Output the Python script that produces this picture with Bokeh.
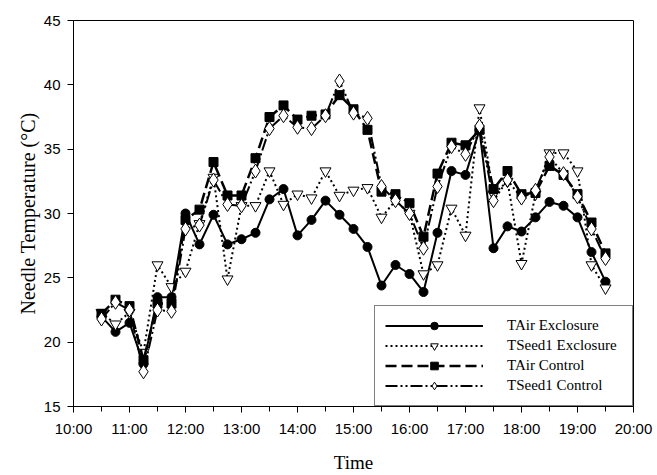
from bokeh.plotting import figure
from bokeh.models import FixedTicker, Legend, LegendItem, Title
from bokeh.embed import file_html
from bokeh.resources import INLINE

times = ["10:30", "10:45", "11:00", "11:15", "11:30", "11:45", "12:00", "12:15", "12:30", "12:45",
         "13:00", "13:15", "13:30", "13:45", "14:00", "14:15", "14:30", "14:45", "15:00", "15:15",
         "15:30", "15:45", "16:00", "16:15", "16:30", "16:45", "17:00", "17:15", "17:30", "17:45",
         "18:00", "18:15", "18:30", "18:45", "19:00", "19:15", "19:30"]

tair_exclosure = [22.0, 20.8, 21.5, 18.3, 23.5, 23.5, 30.0, 27.6, 29.9, 27.6,
                  28.0, 28.5, 31.1, 31.9, 28.3, 29.5, 31.0, 29.9, 28.8, 27.4,
                  24.4, 26.0, 25.3, 23.9, 28.5, 33.3, 33.0, 36.5, 27.3, 29.0,
                  28.6, 29.7, 30.9, 30.6, 29.7, 27.0, 24.7]
tseed1_exclosure = [22.3, 21.4, 22.3, 19.2, 26.0, 24.3, 25.5, 29.2, 32.8, 24.9,
                    30.6, 30.6, 33.3, 30.7, 31.5, 31.2, 33.3, 31.4, 31.8, 32.0,
                    29.7, 31.0, 30.0, 25.3, 26.0, 30.4, 28.3, 38.2, 31.5, 32.5,
                    26.1, 31.5, 34.7, 34.7, 33.3, 26.0, 24.2]
tair_control = [22.2, 23.3, 22.8, 18.6, 23.0, 23.0, 29.5, 30.3, 34.0, 31.4,
                31.4, 34.3, 37.5, 38.4, 37.3, 37.6, 37.7, 39.2, 38.1, 36.5,
                31.7, 31.5, 30.8, 28.2, 33.1, 35.5, 35.3, 36.5, 31.9, 33.3,
                31.5, 31.6, 33.7, 33.0, 31.5, 29.3, 26.9]
tseed1_control = [21.8, 23.1, 22.5, 17.7, 22.5, 22.4, 28.8, 29.1, 32.6, 30.7,
                  30.6, 33.3, 36.6, 37.6, 36.7, 36.6, 37.6, 40.3, 37.8, 37.4,
                  32.1, 31.0, 30.0, 27.3, 32.1, 35.2, 34.6, 36.8, 31.0, 32.6,
                  31.2, 31.8, 34.4, 33.1, 31.3, 28.8, 26.5]

hour_ticks = [10, 11, 12, 13, 14, 15, 16, 17, 18, 19, 20]
hour_labels = ["10:00", "11:00", "12:00", "13:00", "14:00", "15:00", "16:00", "17:00", "18:00", "19:00", "20:00"]
half_hour_ticks = [10.5, 11.5, 12.5, 13.5, 14.5, 15.5, 16.5, 17.5, 18.5, 19.5]
y_ticks = [15, 20, 25, 30, 35, 40, 45]


def to_hours(t):
    h, m = t.split(":")
    return int(h) + int(m) / 60.0


x = [to_hours(t) for t in times]

p = figure(width=657, height=475, x_range=(10, 20), y_range=(15, 45),
           output_backend="svg", toolbar_location=None,
           min_border_left=73, min_border_right=24, min_border_top=20, min_border_bottom=65)

p.background_fill_color = "white"
p.border_fill_color = "white"
p.outline_line_color = "black"
p.outline_line_width = 1
p.xgrid.visible = False
p.ygrid.visible = False

p.xaxis.ticker = FixedTicker(ticks=hour_ticks, minor_ticks=half_hour_ticks)
p.xaxis.major_label_overrides = {t: l for t, l in zip(hour_ticks, hour_labels)}
p.yaxis.ticker = FixedTicker(ticks=y_ticks, minor_ticks=[])

for ax in (p.xaxis, p.yaxis):
    ax.axis_line_color = "black"
    ax.axis_line_width = 1
    ax.major_tick_line_color = "black"
    ax.minor_tick_line_color = "black"
    ax.major_tick_in = 0
    ax.major_tick_out = 6
    ax.minor_tick_in = 0
    ax.minor_tick_out = 5
    ax.major_label_text_font = "Liberation Sans"
    ax.major_label_text_font_size = "15px"
    ax.major_label_text_color = "black"
    ax.axis_label_text_font = "Liberation Serif"
    ax.axis_label_text_font_style = "normal"
    ax.axis_label_text_color = "black"

p.xaxis.axis_label = "Time"
p.xaxis.axis_label_text_font_size = "19px"
p.xaxis.major_label_standoff = 7
p.yaxis.major_label_standoff = 7
p.xaxis.axis_label_standoff = 12

ytitle = Title(text="Needle Temperature (°C)", align="center", offset=15,
               text_font="Liberation Serif", text_font_size="20px",
               text_font_style="normal", text_color="black", standoff=4)
p.add_layout(ytitle, "left")

l1 = p.line(x, tair_exclosure, line_color="black", line_width=2)
m1 = p.scatter(x, tair_exclosure, marker="circle", size=9, fill_color="black", line_color="black")

l2 = p.line(x, tseed1_exclosure, line_color="black", line_width=2, line_dash="2 3")
m2 = p.scatter(x, tseed1_exclosure, marker="inverted_triangle", size=11, fill_color="white", line_color="black", line_width=1)

l3 = p.line(x, tair_control, line_color="black", line_width=2.5, line_dash="11 5")
m3 = p.scatter(x, tair_control, marker="square", size=9, fill_color="black", line_color="black")

l4 = p.line(x, tseed1_control, line_color="black", line_width=2, line_dash="12 3 2 3 2 3")
m4 = p.scatter(x, tseed1_control, marker="diamond", size=14, fill_color="white", line_color="black", line_width=1)

legend = Legend(items=[
    LegendItem(label="TAir Exclosure", renderers=[l1, m1]),
    LegendItem(label="TSeed1 Exclosure", renderers=[l2, m2]),
    LegendItem(label="TAir Control", renderers=[l3, m3]),
    LegendItem(label="TSeed1 Control", renderers=[l4, m4]),
], location="bottom_right")
legend.margin = 0
legend.padding = 10
legend.spacing = 1
legend.glyph_width = 98
legend.glyph_height = 19
legend.label_height = 19
legend.label_width = 115
legend.label_standoff = 24
legend.label_text_font = "Liberation Serif"
legend.label_text_font_size = "15px"
legend.label_text_color = "black"
legend.border_line_color = "black"
legend.border_line_width = 1
legend.background_fill_color = "white"
legend.background_fill_alpha = 1
p.add_layout(legend)

open("out.html", "w").write(file_html(p, INLINE))
